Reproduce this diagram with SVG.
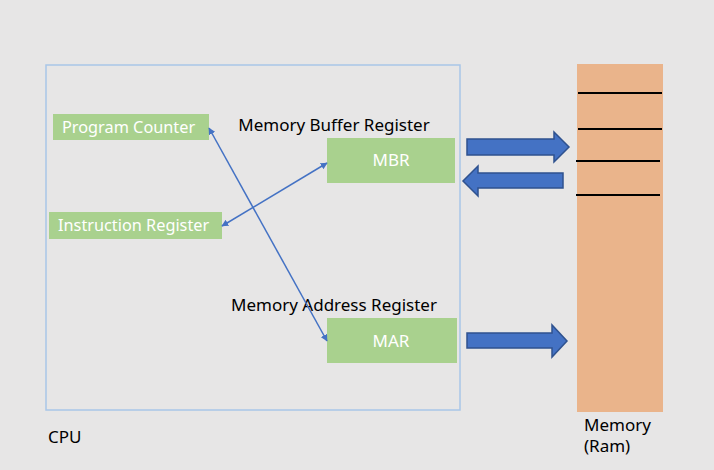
<svg xmlns="http://www.w3.org/2000/svg" width="714" height="470" viewBox="0 0 714 470">
<defs>
<style>
.t{font-family:"Noto Sans","Open Sans","Liberation Sans",sans-serif;font-size:17px;fill:#000}
.w{fill:#fff}
.s{font-size:16.3px}
.reg{fill:#a9d18e}
.conn{stroke:#4472c4;stroke-width:1.5;fill:none}
.big{fill:#4472c4;stroke:#2f528f;stroke-width:1.5}
.sep{stroke:#000;stroke-width:2}
</style>
<marker id="ah" viewBox="0 0 10 10" refX="9" refY="5" markerWidth="7" markerHeight="7" orient="auto-start-reverse" markerUnits="userSpaceOnUse">
<path d="M0,0 L10,5 L0,10 z" fill="#4472c4"/>
</marker>
</defs>
<rect width="714" height="470" fill="#e7e6e6"/>
<g id="cpu">
<rect x="46" y="65" width="414" height="345" fill="none" stroke="#a9c6e8" stroke-width="1.5"/>
<text class="t" x="48" y="443">CPU</text>
</g>
<g id="pc">
<rect class="reg" x="53" y="114" width="156" height="26"/>
<text class="t w s" x="62" y="133">Program Counter</text>
</g>
<g id="ir">
<rect class="reg" x="49" y="212" width="173" height="27"/>
<text class="t w s" x="58" y="231">Instruction Register</text>
</g>
<g id="mbr">
<text class="t" x="334" y="131" text-anchor="middle">Memory Buffer Register</text>
<rect class="reg" x="327" y="138" width="128" height="45"/>
<text class="t w" x="391" y="166" text-anchor="middle">MBR</text>
</g>
<g id="mar">
<text class="t" x="334" y="311" text-anchor="middle">Memory Address Register</text>
<rect class="reg" x="327" y="318" width="130" height="45"/>
<text class="t w" x="391" y="347" text-anchor="middle">MAR</text>
</g>
<g id="memory">
<rect x="577" y="64" width="86" height="348" fill="#eab48b"/>
<line class="sep" x1="578" y1="93" x2="662" y2="93"/>
<line class="sep" x1="578" y1="129" x2="662" y2="129"/>
<line class="sep" x1="576" y1="161" x2="660" y2="161"/>
<line class="sep" x1="576" y1="195" x2="660" y2="195"/>
<text class="t" x="584" y="431">Memory</text>
<text class="t" x="584" y="452">(Ram)</text>
</g>
<g id="connectors">
<line class="conn" x1="209" y1="128" x2="327" y2="341" marker-start="url(#ah)" marker-end="url(#ah)"/>
<line class="conn" x1="222" y1="226" x2="327" y2="163" marker-start="url(#ah)" marker-end="url(#ah)"/>
<path class="big" d="M467,139 L554,139 L554,132 L569,147 L554,162 L554,155 L467,155 z"/>
<path class="big" d="M563,173 L478,173 L478,166 L463,181 L478,196 L478,188 L563,188 z"/>
<path class="big" d="M467,333 L552,333 L552,325 L567,341 L552,357 L552,348 L467,348 z"/>
</g>
</svg>
